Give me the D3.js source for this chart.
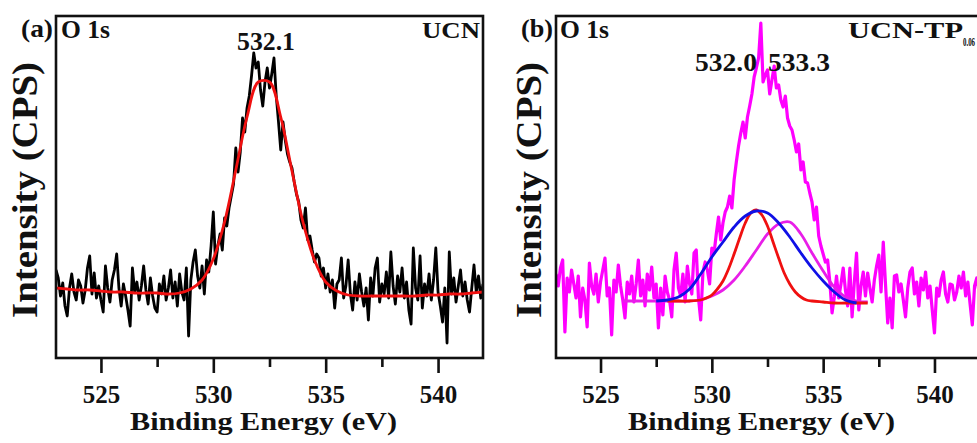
<!DOCTYPE html>
<html>
<head>
<meta charset="utf-8">
<script src="https://cdnjs.cloudflare.com/ajax/libs/d3/7.8.5/d3.min.js"></script>
<style>
  body { margin: 0; background: #fff; }
  text { font-family: "Liberation Serif", "Times New Roman", serif; font-weight: bold; fill: #111; }
</style>
</head>
<body>
<div id="chart"></div>
<script>
// energy grid of the raw spectra (eV)
var energyStart = 523, energyStep = 0.1;
var xDomain = [523, 542];
var xTicks = [525, 530, 535, 540];
var xMinorTicks = [527.5, 532.5, 537.5];

// (a) UCN, O 1s raw counts (arb. units), 523.0 -> 542.0 eV
var ucnCounts = [
  88,80,62,75,52,42,70,84,66,58,
  78,72,55,68,90,102,64,85,60,72,
  58,46,92,70,56,78,88,104,70,52,
  74,62,48,32,90,66,76,58,72,92,
  68,54,80,62,50,46,74,64,82,58,
  70,88,60,76,52,84,66,58,90,22,
  78,96,108,82,70,92,64,98,86,112,
  146,94,112,124,108,140,132,150,162,174,
  210,186,206,240,226,250,262,282,305,290,
  296,268,252,276,290,270,284,300,262,236,
  208,236,218,204,196,190,176,164,156,138,
  130,150,118,122,108,96,104,100,82,90,
  70,84,66,78,50,74,78,100,60,72,
  98,64,48,76,58,84,66,52,70,38,
  80,62,90,100,56,74,64,86,60,106,
  72,54,82,66,90,60,76,48,34,110,
  70,58,102,50,74,62,84,58,78,110,
  66,52,36,70,15,106,64,80,56,72,
  88,62,76,58,46,70,93,66,82,60,
  74
];
// (a) fitted envelope
var ucnFitEnergy = [523,523.5,524,524.5,525,525.5,526,526.5,527,527.5,528,528.5,529,529.5,530,530.5,
  531,531.5,532,532.5,533,533.5,534,534.5,535,535.5,536,536.5,537,537.5,538,538.5,539,539.5,540,540.5,541,541.5,542];
var ucnFit = [70,69,68,68,67,66,66,65,65,65,64,65,69,78,99,136,
  188,241,276,276,241,187,135,98,76,67,63,62,62,62,62,62,62,63,63,64,64,65,66];

// (b) UCN-TP0.06, O 1s raw counts, 523.0 -> 542.0 eV
var tpCounts = [
  84,72,90,98,26,80,66,88,74,60,
  82,41,70,58,31,95,72,64,84,56,
  76,88,100,62,70,23,78,66,93,72,
  58,40,76,64,82,56,74,98,62,78,
  52,84,68,91,60,74,30,70,43,82,
  66,58,41,88,105,70,62,84,56,92,
  74,64,105,108,60,38,86,96,88,74,
  110,105,124,141,118,135,146,151,162,150,
  178,196,212,225,236,220,241,252,264,281,
  290,300,335,276,283,288,264,278,292,270,
  273,258,251,262,240,232,228,218,206,214,
  188,196,176,175,165,156,138,151,122,112,
  104,96,98,76,45,61,82,60,74,90,
  68,52,90,41,76,105,48,72,86,62,
  85,70,56,78,92,103,66,116,74,35,
  60,30,82,83,66,74,58,41,70,86,
  90,64,76,52,80,68,86,60,72,48,
  25,70,62,78,86,64,56,74,73,58,
  66,82,70,86,62,76,54,33,72,80,
  66
];
// (b) fitted components
var tpRedEnergy = [528,528.5,529,529.5,529.75,530,530.25,530.5,530.75,531,531.25,531.5,531.75,532,
  532.25,532.5,532.75,533,533.25,533.5,533.75,534,534.25,534.5,535,535.5,536,536.5,537];
var tpRed = [57,57,57,58,60,63,69,77,89,104,120,135,145,148,
  143,132,116,100,85,74,66,61,58,57,56,55,55,55,55];
var tpBlueEnergy = [527.5,528,528.5,529,529.5,530,530.5,531,531.5,532,532.5,533,533.5,534,534.5,535,535.5,536,536.5];
var tpBlue = [57,58,61,69,84,101,116,131,142,147,145,135,121,105,90,77,66,58,55];
var tpPinkEnergy = [526,526.5,527,527.5,528,528.5,529,529.5,530,530.5,531,531.5,532,532.5,533,533.5,
  534,534.5,535,535.5,536,536.5,537];
var tpPink = [57,57,57,57,57,57,57,58,62,68,78,92,108,124,134,136,124,105,87,71,61,57,56];

var width = 977, height = 443;
var plotTop = 16, plotH = 342;

var svg = d3.select("#chart")
  .append("svg")
    .attr("width", width)
    .attr("height", height);

function pairs(xs, ys) {
  return ys.map(function(v, i) { return [xs[i], v]; });
}
function rawPairs(counts) {
  return counts.map(function(v, i) { return [energyStart + i * energyStep, v]; });
}

function drawPanel(p) {
  var g = svg.append("g")
      .attr("transform", "translate(" + p.left + "," + plotTop + ")");

  var x = d3.scaleLinear().domain(xDomain).range([0, p.w]);
  var y = d3.scaleLinear().domain([0, plotH]).range([plotH, 0]);

  g.append("clipPath").attr("id", p.id + "-clip")
    .append("rect").attr("width", p.w).attr("height", plotH);

  var raw = d3.line()
      .x(function(d) { return x(d[0]); })
      .y(function(d) { return y(d[1]); });
  var smooth = d3.line()
      .curve(d3.curveCatmullRom)
      .x(function(d) { return x(d[0]); })
      .y(function(d) { return y(d[1]); });

  var plot = g.append("g").attr("clip-path", "url(#" + p.id + "-clip)");

  plot.append("path")
      .attr("d", raw(rawPairs(p.counts)))
      .attr("fill", "none")
      .attr("stroke", p.rawColor)
      .attr("stroke-width", p.rawWidth)
      .attr("stroke-linejoin", "round");

  p.fits.forEach(function(f) {
    plot.append("path")
        .attr("d", smooth(pairs(f.e, f.v)))
        .attr("fill", "none")
        .attr("stroke", f.color)
        .attr("stroke-width", 2.8);
  });

  // bottom axis, major + minor ticks
  var ax = g.append("g")
      .attr("transform", "translate(0," + plotH + ")")
      .call(d3.axisBottom(x).tickValues(xTicks).tickSize(15).tickSizeOuter(0).tickPadding(12));
  var axm = g.append("g")
      .attr("transform", "translate(0," + plotH + ")")
      .call(d3.axisBottom(x).tickValues(xMinorTicks).tickSize(9).tickSizeOuter(0).tickFormat(""));
  [ax, axm].forEach(function(a) {
    a.select(".domain").remove();
    a.selectAll(".tick line").attr("stroke", "#111").attr("stroke-width", 2.6);
  });
  ax.selectAll(".tick text")
      .style("font-size", "25px")
      .style("font-family", "'Liberation Serif', serif")
      .style("font-weight", "bold")
      .attr("fill", "#111");

  g.append("rect")
      .attr("width", p.w)
      .attr("height", plotH)
      .attr("fill", "none")
      .attr("stroke", "#111")
      .attr("stroke-width", 2.6);

  g.append("text")
      .attr("x", p.w / 2 - 6)
      .attr("y", 414)
      .attr("text-anchor", "middle")
      .attr("textLength", 267)
      .attr("lengthAdjust", "spacingAndGlyphs")
      .style("font-size", "26px")
      .text("Binding Energy (eV)");

  svg.append("text")
      .attr("transform", "translate(" + p.yLabelX + ",190) rotate(-90)")
      .attr("text-anchor", "middle")
      .attr("textLength", 256)
      .attr("lengthAdjust", "spacingAndGlyphs")
      .style("font-size", "36px")
      .text("Intensity (CPS)");

  p.notes.forEach(function(n) {
    var t = svg.append("text")
        .attr("x", n.x)
        .attr("y", n.y)
        .attr("text-anchor", n.anchor || "start")
        .style("font-size", (n.size || 25) + "px")
        .text(n.t);
    if (n.len) t.attr("textLength", n.len).attr("lengthAdjust", "spacingAndGlyphs");
  });
}

drawPanel({
  id: "a", left: 56, w: 427, yLabelX: 37,
  counts: ucnCounts, rawColor: "#000", rawWidth: 2.8,
  fits: [{ e: ucnFitEnergy, v: ucnFit, color: "#f01010" }],
  notes: [
    { t: "(a)", x: 21, y: 37, len: 32 },
    { t: "O 1s", x: 61, y: 38, len: 49 },
    { t: "532.1", x: 237, y: 50, len: 58 },
    { t: "UCN", x: 422, y: 38, size: 24, len: 58 }
  ]
});

drawPanel({
  id: "b", left: 556, w: 423, yLabelX: 541,
  counts: tpCounts, rawColor: "#ff00ff", rawWidth: 3.2,
  fits: [
    { e: tpPinkEnergy, v: tpPink, color: "#e81ee8" },
    { e: tpRedEnergy, v: tpRed, color: "#f01010" },
    { e: tpBlueEnergy, v: tpBlue, color: "#1010e6" }
  ],
  notes: [
    { t: "(b)", x: 521, y: 37, len: 32 },
    { t: "O 1s", x: 560, y: 38, len: 49 },
    { t: "532.0", x: 695, y: 71, len: 62 },
    { t: "533.3", x: 768, y: 71, len: 62 },
    { t: "UCN-TP", x: 848, y: 38, size: 24, len: 115 },
    { t: "0.06", x: 963, y: 46, size: 12, len: 12 }
  ]
});
</script>
</body>
</html>
